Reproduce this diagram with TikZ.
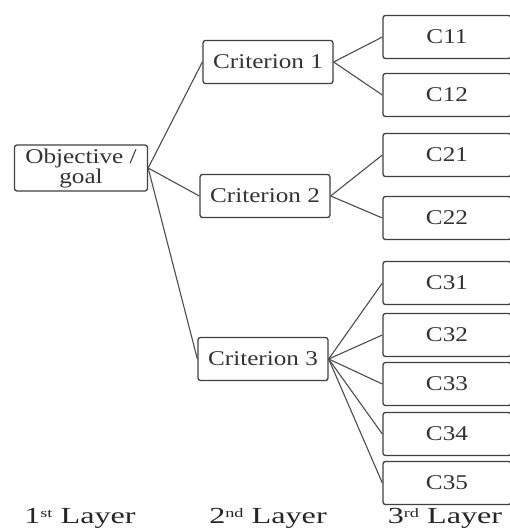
\documentclass[tikz,border=0pt]{standalone}
\usepackage{fontspec}
\setmainfont[FakeStretch=1.2]{Liberation Serif}
\newfontfamily\layfont[FakeStretch=1.4]{Liberation Serif}
\newcommand\laysup[1]{\raisebox{0.55ex}{\fontsize{13}{13}\selectfont #1}}
\begin{document}
\begin{tikzpicture}[x=1pt,y=-1pt,
  box/.style={draw=black!75,line width=1.3pt,rounded corners=2.5pt,fill=white,inner sep=0pt,font=\fontsize{21}{19}\selectfont,text=black!80,align=center},
  cbox/.style={box,minimum width=128pt,minimum height=43pt},
  crit/.style={box,minimum width=130pt,minimum height=43pt},
  link/.style={draw=black!70,line width=1.1pt},
  lay/.style={font=\layfont\fontsize{23}{25}\selectfont,text=black!85,anchor=base}]
\useasboundingbox (0,0) rectangle (510,531);
\node[box,minimum width=133pt,minimum height=46pt] (obj) at (81,168) {Objective /\\goal};
\node[crit] (k1) at (268,62) {Criterion 1};
\node[crit] (k2) at (265,196) {Criterion 2};
\node[crit] (k3) at (263,359) {Criterion 3};
\node[cbox] (c11) at (447,37) {C11};
\node[cbox] (c12) at (447,95) {C12};
\node[cbox] (c21) at (447,155) {C21};
\node[cbox] (c22) at (447,218) {C22};
\node[cbox] (c31) at (447,283) {C31};
\node[cbox] (c32) at (447,335) {C32};
\node[cbox] (c33) at (447,384) {C33};
\node[cbox] (c34) at (447,434) {C34};
\node[cbox] (c35) at (447,483) {C35};
\foreach \k in {k1,k2,k3} \draw[link] (obj.east) -- (\k.west);
\foreach \c in {c11,c12} \draw[link] (k1.east) -- (\c.west);
\foreach \c in {c21,c22} \draw[link] (k2.east) -- (\c.west);
\foreach \c in {c31,c32,c33,c34,c35} \draw[link] (k3.east) -- (\c.west);
\node[lay] (l1) at (80,523) {1\laysup{st} Layer};
\node[lay] (l2) at (268,523) {2\laysup{nd} Layer};
\node[lay] (l3) at (445,523) {3\laysup{rd} Layer};
\end{tikzpicture}
\end{document}
